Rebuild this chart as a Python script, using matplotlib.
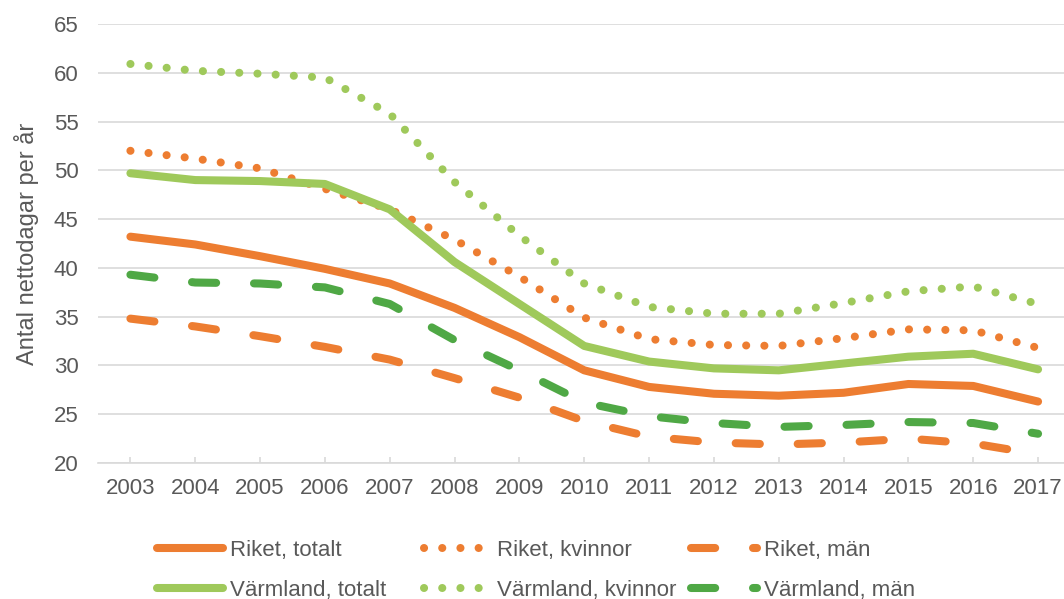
import matplotlib
matplotlib.use("Agg")
import matplotlib.pyplot as plt
from matplotlib.lines import Line2D

plt.rcParams['font.family'] = ['Liberation Sans', 'DejaVu Sans']

# data
years = list(range(2003, 2018))
riket_totalt = [43.2, 42.4, 41.2, 39.9, 38.4, 35.9, 32.9, 29.5, 27.8, 27.1, 26.9, 27.2, 28.1, 27.9, 26.3]
riket_kvinnor = [52.0, 51.2, 50.2, 48.1, 46.0, 42.9, 39.1, 34.9, 32.7, 32.1, 32.0, 32.8, 33.7, 33.6, 31.8]
riket_man = [34.8, 34.0, 33.0, 31.9, 30.6, 28.7, 26.7, 24.3, 22.7, 22.1, 21.9, 22.1, 22.5, 22.0, 20.9]
varmland_totalt = [49.7, 49.0, 48.9, 48.6, 46.0, 40.6, 36.3, 32.0, 30.4, 29.7, 29.5, 30.2, 30.9, 31.2, 29.6]
varmland_kvinnor = [60.9, 60.2, 59.9, 59.5, 55.8, 48.8, 43.3, 38.4, 36.0, 35.3, 35.3, 36.4, 37.6, 38.1, 36.3]
varmland_man = [39.3, 38.5, 38.4, 38.0, 36.3, 32.6, 29.5, 26.2, 24.8, 24.1, 23.7, 23.9, 24.2, 24.1, 23.0]

yticks = [20, 25, 30, 35, 40, 45, 50, 55, 60, 65]

ORANGE = '#ED7D31'
LGREEN = '#9FC95B'
DGREEN = '#4FA845'
TEXT = '#595959'
GRID = '#D9D9D9'

LW = 5.8
DOT = (0, (0.01, 2.25))
DASH = (0, (3.0, 4.7))

series = [
    ('Riket, totalt', riket_totalt, ORANGE, '-'),
    ('Riket, kvinnor', riket_kvinnor, ORANGE, DOT),
    ('Riket, män', riket_man, ORANGE, DASH),
    ('Värmland, totalt', varmland_totalt, LGREEN, '-'),
    ('Värmland, kvinnor', varmland_kvinnor, LGREEN, DOT),
    ('Värmland, män', varmland_man, DGREEN, DASH),
]

fig = plt.figure(figsize=(10.64, 5.99), dpi=100)
ax = fig.add_axes([0.0921, 0.227, 0.9079, 0.733])

# draw order: back to front roughly like the reference
draw_order = [2, 5, 0, 1, 3, 4]
for i in draw_order:
    label, vals, color, ls = series[i]
    ax.plot(years, vals, color=color, lw=LW, linestyle=ls,
            solid_capstyle='round', dash_capstyle='round', zorder=3)

ax.set_xlim(2002.5, 2017.4)
ax.set_ylim(20, 65)
ax.set_xticks(years)
ax.set_yticks(yticks)
ax.grid(axis='y', color=GRID, lw=1.2, zorder=0)
ax.set_axisbelow(True)
for side in ['top', 'right', 'left']:
    ax.spines[side].set_visible(False)
ax.spines['bottom'].set_color(GRID)
ax.spines['bottom'].set_linewidth(1.2)
ax.tick_params(axis='x', direction='in', length=4, width=1.2, color=GRID,
               labelsize=16, labelcolor=TEXT, pad=11)
ax.tick_params(axis='y', length=0, labelsize=16, labelcolor=TEXT, pad=14)
ax.set_ylabel('Antal nettodagar per år', fontsize=17, color=TEXT, labelpad=11)

# legend: three columns, each placed on its own like the Excel layout
col_x = [0.1476, 0.3985, 0.6494]
for c in range(3):
    handles = []
    labels = []
    for r in range(2):
        label, vals, color, ls = series[r * 3 + c]
        handles.append(Line2D([], [], color=color, lw=LW, linestyle=ls,
                              solid_capstyle='round', dash_capstyle='round'))
        labels.append(label)
    fig.legend(handles, labels, loc='upper left', bbox_to_anchor=(col_x[c], 0.099),
               frameon=False, fontsize=16, labelcolor=TEXT, handlelength=2.95,
               handletextpad=0.35, labelspacing=0.85, borderpad=0, borderaxespad=0)

fig.savefig('out.png', dpi=100)
